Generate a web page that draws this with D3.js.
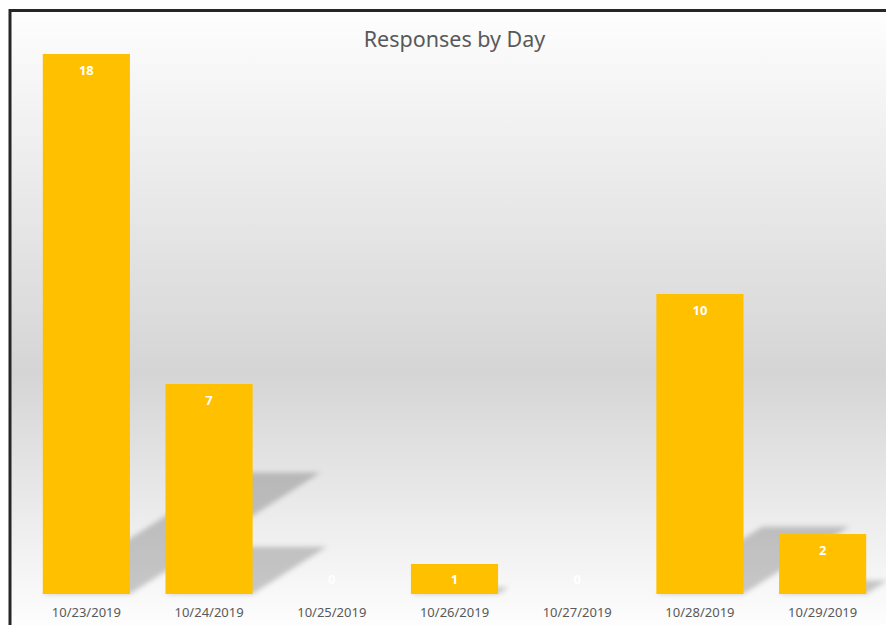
<!DOCTYPE html>
<html>
<head>
<meta charset="utf-8">
<script src="https://cdnjs.cloudflare.com/ajax/libs/d3/7.8.5/d3.min.js"></script>
<style>
  body { margin: 0; background: #ffffff; }
  text { font-family: "Noto Sans", sans-serif; }
</style>
</head>
<body>
<div id="chart"></div>
<script>
// data
var days = ["10/23/2019", "10/24/2019", "10/25/2019", "10/26/2019", "10/27/2019", "10/28/2019", "10/29/2019"];
var responses = [18, 7, 0, 1, 0, 10, 2];
var chartTitle = "Responses by Day";

var svgWidth = 886;
var svgHeight = 625;

// plot area
var plot = {
    left: 25,
    right: 884,
    top: 54,
    bottom: 594
};

var svg = d3.select("#chart")
    .append("svg")
    .attr("width", svgWidth)
    .attr("height", svgHeight);

var defs = svg.append("defs");

// background gradient (white -> grey -> white)
var grad = defs.append("linearGradient")
    .attr("id", "bgGrad")
    .attr("gradientUnits", "userSpaceOnUse")
    .attr("x1", 0).attr("x2", 0)
    .attr("y1", 10).attr("y2", 636);
grad.append("stop").attr("offset", "0").attr("stop-color", "#fefefe");
grad.append("stop").attr("offset", "0.58").attr("stop-color", "#d5d5d5");
grad.append("stop").attr("offset", "1").attr("stop-color", "#ffffff");

// blur for shadows
defs.append("filter")
    .attr("id", "shadowBlur")
    .attr("x", "-20%").attr("y", "-20%")
    .attr("width", "140%").attr("height", "140%")
    .append("feGaussianBlur")
    .attr("stdDeviation", 2.5);

// chart area with frame
svg.append("rect")
    .attr("x", 10)
    .attr("y", 10.5)
    .attr("width", 890)
    .attr("height", 630)
    .attr("fill", "url(#bgGrad)")
    .attr("stroke", "#262626")
    .attr("stroke-width", 3);

//scales
var xScale = d3.scaleBand()
    .domain(days)
    .range([plot.left, plot.right])
    .paddingInner(0.29)
    .paddingOuter(0.145);

var yScale = d3.scaleLinear()
    .domain([0, d3.max(responses)])
    .range([plot.bottom, plot.top]);

var data = days.map(function(d, i) {
    return {day: d, value: responses[i]};
});

//perspective shadows (drawn under all bars)
var shK = 0.225;   // shadow height as part of bar height
var shSkew = 1.57; // horizontal shift per pixel of shadow height

svg.append("g")
    .attr("filter", "url(#shadowBlur)")
    .selectAll("polygon")
    .data(data.filter(d => d.value > 0))
    .enter()
    .append("polygon")
    .attr("points", function(d) {
        var x0 = xScale(d.day);
        var x1 = x0 + xScale.bandwidth();
        var h = yScale(0) - yScale(d.value);
        var sh = h * shK;
        var dx = sh * shSkew;
        var b = yScale(0);
        return [[x0, b], [x1, b], [x1 + dx, b - sh], [x0 + dx, b - sh]].join(" ");
    })
    .attr("fill", "#000000")
    .attr("fill-opacity", 0.2);

//bars
svg.append("g")
    .selectAll("rect")
    .data(data)
    .enter()
    .append("rect")
    .attr("x", d => xScale(d.day))
    .attr("y", d => yScale(d.value))
    .attr("width", xScale.bandwidth())
    .attr("height", d => yScale(0) - yScale(d.value))
    .attr("fill", "#ffc000");

//value labels
svg.append("g")
    .selectAll("text")
    .data(data)
    .enter()
    .append("text")
    .attr("x", d => xScale(d.day) + xScale.bandwidth() / 2)
    .attr("y", d => Math.min(yScale(d.value) + 21, plot.bottom - 10))
    .attr("text-anchor", "middle")
    .attr("font-size", "13px")
    .attr("font-weight", "bold")
    .attr("fill", "#ffffff")
    .text(d => d.value);

//x axis
var bottomAxis = d3.axisBottom(xScale)
    .tickSize(0)
    .tickPadding(14);

var xAxis = svg.append("g")
    .attr("transform", `translate(0, ${plot.bottom})`)
    .call(bottomAxis);

xAxis.select(".domain").remove();
xAxis.selectAll("text")
    .attr("font-family", "Noto Sans, sans-serif")
    .attr("font-size", "13px")
    .attr("fill", "#595959");

//title
svg.append("text")
    .attr("x", 454.5)
    .attr("y", 47)
    .attr("text-anchor", "middle")
    .attr("font-size", "21.5px")
    .attr("fill", "#595959")
    .text(chartTitle);
</script>
</body>
</html>
